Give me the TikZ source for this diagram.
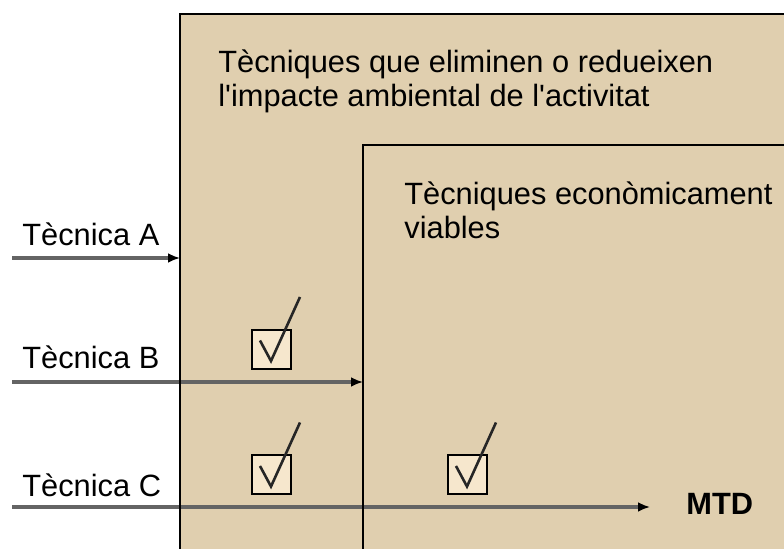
\documentclass[tikz,border=0pt]{standalone}
\usepackage{fontspec}
\setmainfont{Liberation Sans}
\usetikzlibrary{arrows.meta}
\definecolor{sorra}{RGB}{224,207,175}
\definecolor{sorraclar}{RGB}{246,231,205}
\definecolor{grisfletxa}{RGB}{100,100,100}
\begin{document}
\begin{tikzpicture}[x=0.5pt,y=-0.5pt,
  vora/.style={draw=black,line width=1.1pt},
  zona/.style={vora,fill=sorra,inner sep=0pt,outer sep=0pt,anchor=north west},
  lletra/.style={font=\fontsize{15.4}{17.4}\selectfont,inner sep=0pt,align=left},
  fletxa/.style={draw=grisfletxa,line width=1.7pt,-{Latex[color=black,length=6pt,width=5pt]}},
  casella/.style={draw=black,line width=1pt,fill=sorraclar,minimum size=19.5pt,inner sep=0pt},
  marca/.style={draw=black!85,line width=1.3pt}]
\useasboundingbox (0,0) rectangle (784,549);
\clip (0,0) rectangle (784,549);
\fill[white] (0,0) rectangle (784,549);
\node[zona,minimum width=310pt,minimum height=273pt] (impacte) at (180,14) {};
\node[zona,minimum width=218.5pt,minimum height=207.5pt] (viables) at (363,145) {};
\node[lletra,anchor=north west] (titolA) at (218,49) {Tècniques que eliminen o redueixen\\l\textquotesingle impacte ambiental de l\textquotesingle activitat};
\node[lletra,anchor=north west] (titolB) at (404,181) {Tècniques econòmicament\\viables};
\node[lletra,anchor=base west] (tecA) at (22,246) {Tècnica A};
\node[lletra,anchor=base west] (tecB) at (22,369) {Tècnica B};
\node[lletra,anchor=base west] (tecC) at (22,497) {Tècnica C};
\node[lletra,font=\fontsize{15.4}{17.4}\selectfont\bfseries,anchor=west] (mtd) at (686,504) {MTD};
\coordinate (iniA) at (12,258);
\coordinate (iniB) at (12,382);
\coordinate (iniC) at (12,507);
\draw[fletxa] (iniA) -- (iniA -| impacte.west);
\draw[fletxa] (iniB) -- (iniB -| viables.west);
\draw[fletxa] (iniC) -- ([xshift=-18pt]mtd.west |- iniC);
\draw[vora] (impacte.north west) -- (impacte.south west);
\draw[vora] (viables.north west) -- (viables.south west);
\node[casella] (cas1) at (271.5,349.5) {};
\node[casella] (cas2) at (271.5,475) {};
\node[casella] (cas3) at (467.5,475) {};
\foreach \c in {cas1,cas2,cas3}
  \draw[marca] (\c.center) ++(-11.5,-9) -- ++(11,20.5) -- ++(29,-64);
\end{tikzpicture}
\end{document}
